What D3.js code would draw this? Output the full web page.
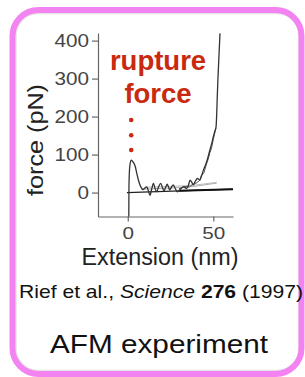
<!DOCTYPE html>
<html>
<head>
<meta charset="utf-8">
<script src="https://cdn.jsdelivr.net/npm/d3@7"></script>
<style>
  html, body { margin: 0; padding: 0; background: #fff; }
  svg { display: block; font-family: "Liberation Sans", Arial, Helvetica, sans-serif; }
</style>
</head>
<body>
<div id="chart"></div>
<script>
// tick values
var yTicks = [0, 100, 200, 300, 400];
var xTicks = [0, 50];

// retract trace: extension (nm), force (pN)
var traceExt   = [0.6, 0.7, 1.2, 2.0, 2.8, 4.3, 5.3, 6.2, 7.6, 9.1, 10, 11.1, 12, 13, 14, 15, 16, 16.9, 18, 19.3,
                  20.2, 21.2, 22.2, 23.1, 24, 24.5, 25.5, 26.6, 27.8, 29, 30.5, 31.5, 32.5, 34.5, 35.5, 36.4, 37.3,
                  38.3, 39.5, 40.7, 41.5, 42.2, 43.2, 44.2, 45.2, 46.1, 47, 48, 49, 50, 50.8, 51.6, 52, 52.3, 52.7,
                  53.1, 53.5, 53.9];
var traceForce = [-63, 20, 70, 85, 82, 70, 50, 33, 15, 8, 12, 15, 5, -7, 10, 24, 10, 2, 15, 24,
                  14, 5, 15, 22, 12, 7, 14, 20, 10, 2, 8, 12, 15, 11, 20, 33, 28,
                  20, 30, 37, 35, 33, 45, 59, 70, 81, 95, 112, 128, 147, 160, 173, 210, 252, 300,
                  340, 380, 419];

// second (overlapping) trace in the rising part
var trace2Ext   = [30, 33, 36, 38, 40, 42, 43, 44.5, 46, 47, 48, 49, 50, 51.5];
var trace2Force = [10, 16, 15, 22, 25, 32, 45, 52, 75, 88, 105, 118, 140, 170];

// zero-force baselines
var baseExt   = [-0.5, 61.5];
var baseForce = [0, 9];
var thickExt   = [30, 61.5];
var thickForce = [4.5, 9];

// worm-like-chain fit lines (faint)
var fitExt   = [8, 20, 30, 40, 52];
var fitForce = [9, 11, 13, 17, 25];
var fit2Ext   = [10, 25, 40, 52];
var fit2Force = [14, 16, 20, 27];

// rupture-force dots
var dotExt   = [2.3, 2.3, 2.3];
var dotForce = [191, 151, 112];

// texts
var yLabel = "force (pN)";
var xLabel = "Extension (nm)";
var noteLines = ["rupture", "force"];
var caption = "AFM experiment";

var W = 305, H = 377;

var svg = d3.select("#chart").append("svg")
  .attr("width", W)
  .attr("height", H);

// pink rounded frame
svg.append("rect")
  .attr("x", 16).attr("y", 13.5)
  .attr("width", 283).attr("height", 357)
  .attr("rx", 22)
  .attr("fill", "none")
  .attr("stroke", "#e4e4e4")
  .attr("stroke-width", 1.5);
svg.append("rect")
  .attr("x", 12.5).attr("y", 10)
  .attr("width", 289).attr("height", 364)
  .attr("rx", 26)
  .attr("fill", "none")
  .attr("stroke", "#f383f0")
  .attr("stroke-width", 6);

// scales
var x = d3.scaleLinear().domain([-17.4, 61.5]).range([98, 233]);
var y = d3.scaleLinear().domain([-63, 420]).range([216.5, 33]);

var pairs = function(a, b) {
  return a.map(function(d, i) { return [d, b[i]]; });
};
var line = d3.line()
  .x(function(d) { return x(d[0]); })
  .y(function(d) { return y(d[1]); });

// axes
var yAxis = d3.axisLeft(y).tickValues(yTicks).tickSize(6).tickSizeOuter(0).tickPadding(3);
var xAxis = d3.axisBottom(x).tickValues(xTicks).tickSize(5).tickSizeOuter(0).tickPadding(5);

var gy = svg.append("g")
  .attr("transform", "translate(" + x.range()[0] + ",0)")
  .call(yAxis);
var gx = svg.append("g")
  .attr("transform", "translate(0," + y.range()[0] + ")")
  .call(xAxis);

[gx, gy].forEach(function(g) {
  g.select(".domain").attr("stroke", "#666").attr("stroke-width", 1.2);
  g.selectAll(".tick line").attr("stroke", "#666").attr("stroke-width", 1.2);
  g.selectAll(".tick text")
    .attr("fill", "#444")
    .attr("font-family", "Liberation Sans, Arial, sans-serif")
    .attr("font-size", g === gx ? 17 : 18)
    .attr("textLength", function(d) { return String(d).length * 11.5; })
    .attr("lengthAdjust", "spacingAndGlyphs");
});

// lines
svg.append("path")
  .attr("d", line(pairs(fitExt, fitForce)))
  .attr("fill", "none").attr("stroke", "#aaa").attr("stroke-width", 1);
svg.append("path")
  .attr("d", line(pairs(fit2Ext, fit2Force)))
  .attr("fill", "none").attr("stroke", "#bbb").attr("stroke-width", 1);
svg.append("path")
  .attr("d", line(pairs(baseExt, baseForce)))
  .attr("fill", "none").attr("stroke", "#222").attr("stroke-width", 1.3);
svg.append("path")
  .attr("d", line(pairs(thickExt, thickForce)))
  .attr("fill", "none").attr("stroke", "#111").attr("stroke-width", 2);
svg.append("path")
  .attr("d", line(pairs(trace2Ext, trace2Force)))
  .attr("fill", "none").attr("stroke", "#555").attr("stroke-width", 1);
svg.append("path")
  .attr("d", line.curve(d3.curveMonotoneX)(pairs(traceExt, traceForce)))
  .attr("fill", "none").attr("stroke", "#333").attr("stroke-width", 1.3)
  .attr("stroke-linejoin", "round");

// rupture annotation
svg.selectAll("circle.dot")
  .data(pairs(dotExt, dotForce))
  .enter().append("circle")
  .attr("class", "dot")
  .attr("cx", function(d) { return x(d[0]) - 0.5; })
  .attr("cy", function(d) { return y(d[1]); })
  .attr("r", 2.3)
  .attr("fill", "#cc2a14");

svg.selectAll("text.note")
  .data(noteLines)
  .enter().append("text")
  .attr("class", "note")
  .attr("x", 158)
  .attr("y", function(d, i) { return 70 + i * 32.5; })
  .attr("text-anchor", "middle")
  .attr("font-size", 27.5)
  .attr("font-weight", "bold")
  .attr("fill", "#c8290f")
  .text(function(d) { return d; });

// axis titles
svg.append("text")
  .attr("transform", "translate(43,140) rotate(-90)")
  .attr("text-anchor", "middle")
  .attr("font-size", 22)
  .attr("fill", "#222")
  .attr("textLength", 112)
  .attr("lengthAdjust", "spacingAndGlyphs")
  .text(yLabel);

svg.append("text")
  .attr("x", 160).attr("y", 265)
  .attr("text-anchor", "middle")
  .attr("font-size", 23)
  .attr("fill", "#222")
  .attr("textLength", 157)
  .attr("lengthAdjust", "spacingAndGlyphs")
  .text(xLabel);

// citation
var cite = svg.append("text")
  .attr("x", 19).attr("y", 298)
  .attr("font-size", 19)
  .attr("fill", "#111")
  .attr("textLength", 284)
  .attr("lengthAdjust", "spacingAndGlyphs");
cite.append("tspan").text("Rief et al., ");
cite.append("tspan").attr("font-style", "italic").text("Science");
cite.append("tspan").text(" ");
cite.append("tspan").attr("font-weight", "bold").text("276");
cite.append("tspan").text(" (1997)");

svg.append("text")
  .attr("x", 159).attr("y", 353)
  .attr("text-anchor", "middle")
  .attr("font-size", 26)
  .attr("fill", "#111")
  .attr("textLength", 218)
  .attr("lengthAdjust", "spacingAndGlyphs")
  .text(caption);
</script>
</body>
</html>
